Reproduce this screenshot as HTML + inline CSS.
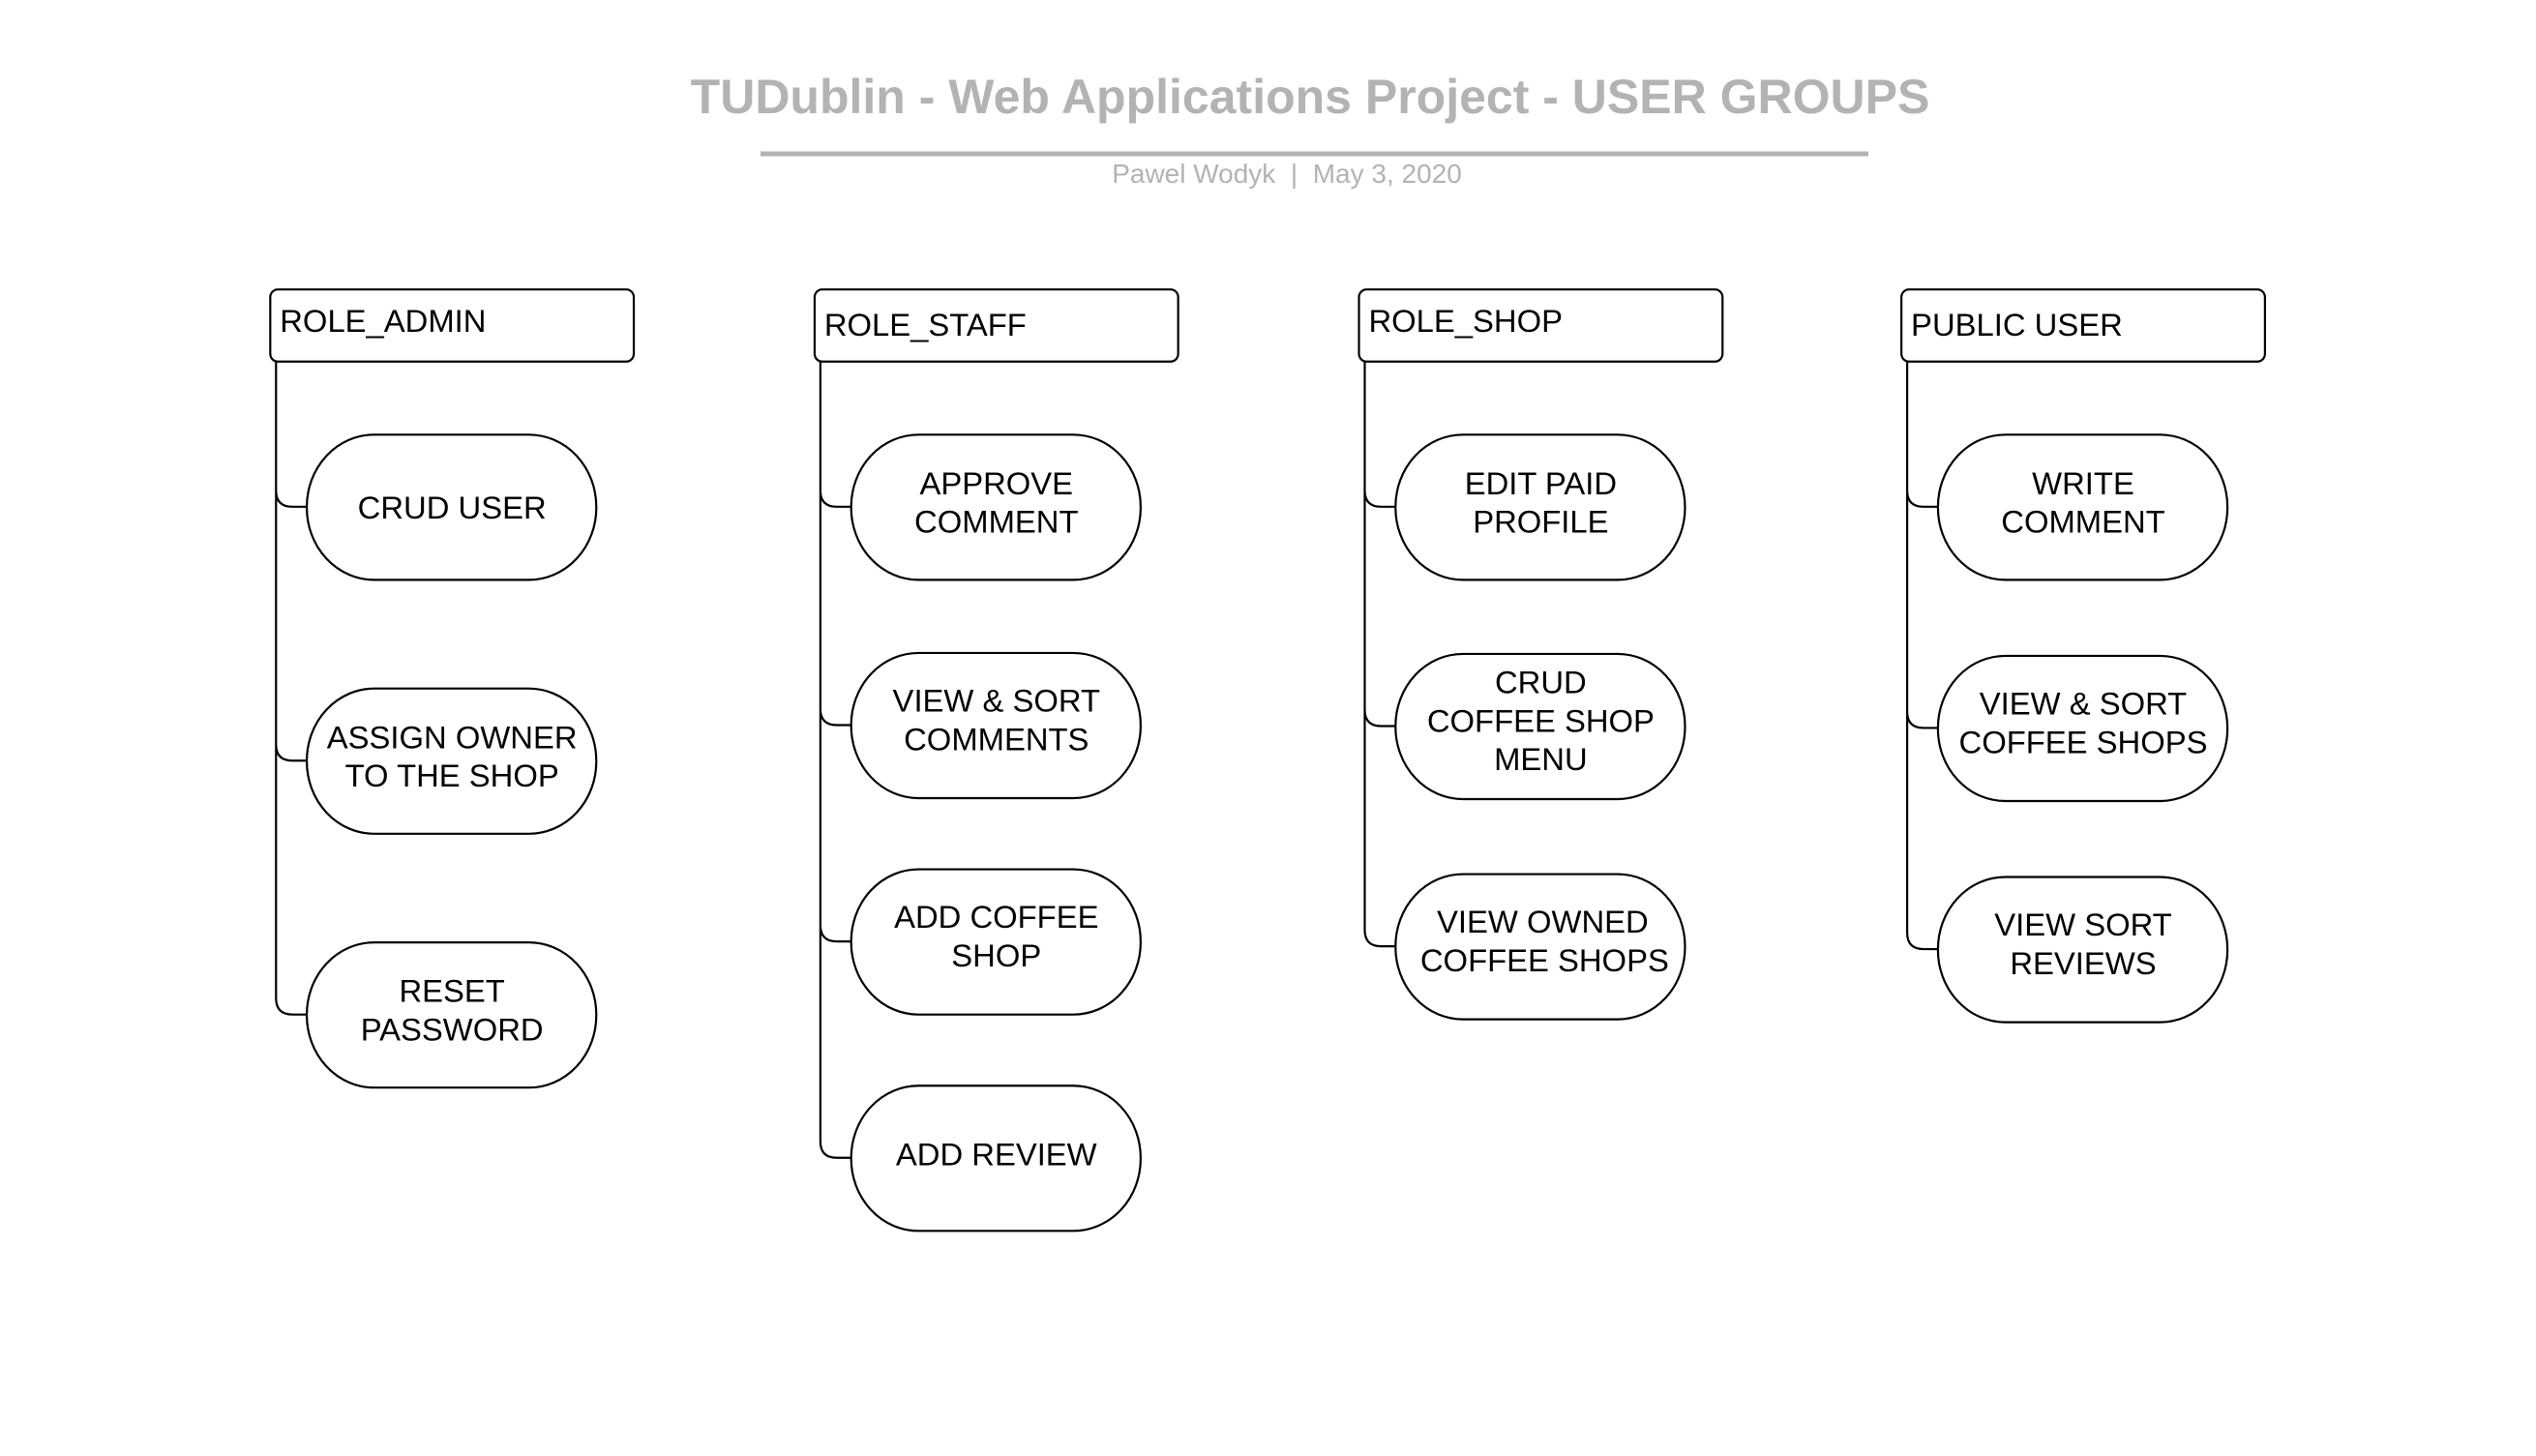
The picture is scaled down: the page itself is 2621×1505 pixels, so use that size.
<!DOCTYPE html>
<html><head><meta charset="utf-8"><style>
html,body{margin:0;padding:0;background:#fff;}
svg{display:block;}
text{font-family:"Liberation Sans",sans-serif;}
</style></head><body>
<svg width="2621" height="1505" viewBox="0 0 2621 1505" xmlns="http://www.w3.org/2000/svg">
<rect width="2621" height="1505" fill="#fff"/>
<text x="1354" y="117" font-size="50" font-weight="bold" fill="#b3b3b3" text-anchor="middle">TUDublin - Web Applications Project - USER GROUPS</text>
<line x1="786" y1="159" x2="1931" y2="159" stroke="#b3b3b3" stroke-width="5"/>
<text x="1330" y="189" font-size="28" fill="#b3b3b3" text-anchor="middle" xml:space="preserve">Pawel Wodyk  |  May 3, 2020</text>

<g transform="scale(0.994)">
<g fill="none" stroke="#000" stroke-width="2.2">
<rect x="281" y="301" width="378" height="75" rx="8"/>
<rect x="847" y="301" width="378" height="75" rx="8"/>
<rect x="1413" y="301" width="378" height="75" rx="8"/>
<rect x="1977" y="301" width="378" height="75" rx="8"/>
<path d="M287 376 V510 q0 17 17 17 H319 M287 510 V774 q0 17 17 17 H319 M287 774 V1038 q0 17 17 17 H319"/>
<path d="M853 376 V510 q0 17 17 17 H885 M853 510 V737 q0 17 17 17 H885 M853 737 V962 q0 17 17 17 H885 M853 962 V1187 q0 17 17 17 H885"/>
<path d="M1419 376 V510 q0 17 17 17 H1451 M1419 510 V738 q0 17 17 17 H1451 M1419 738 V967 q0 17 17 17 H1451"/>
<path d="M1983 376 V510 q0 17 17 17 H2015 M1983 510 V740 q0 17 17 17 H2015 M1983 740 V970 q0 17 17 17 H2015"/>
<rect x="319" y="452" width="301" height="151" rx="70" ry="75"/>
<rect x="319" y="716" width="301" height="151" rx="70" ry="75"/>
<rect x="319" y="980" width="301" height="151" rx="70" ry="75"/>
<rect x="885" y="452" width="301" height="151" rx="70" ry="75"/>
<rect x="885" y="679" width="301" height="151" rx="70" ry="75"/>
<rect x="885" y="904" width="301" height="151" rx="70" ry="75"/>
<rect x="885" y="1129" width="301" height="151" rx="70" ry="75"/>
<rect x="1451" y="452" width="301" height="151" rx="70" ry="75"/>
<rect x="1451" y="680" width="301" height="151" rx="70" ry="75"/>
<rect x="1451" y="909" width="301" height="151" rx="70" ry="75"/>
<rect x="2015" y="452" width="301" height="151" rx="70" ry="75"/>
<rect x="2015" y="682" width="301" height="151" rx="70" ry="75"/>
<rect x="2015" y="912" width="301" height="151" rx="70" ry="75"/>
</g>

<g font-size="33" fill="#000">
<text x="291" y="345">ROLE_ADMIN</text>
<text x="857" y="349">ROLE_STAFF</text>
<text x="1423" y="345">ROLE_SHOP</text>
<text x="1987" y="349">PUBLIC USER</text>
</g>

<g font-size="33" fill="#000" text-anchor="middle">
<text x="470" y="539">CRUD USER</text>
<text x="470" y="778">ASSIGN OWNER</text><text x="470" y="818">TO THE SHOP</text>
<text x="470" y="1042">RESET</text><text x="470" y="1082">PASSWORD</text>
<text x="1036" y="514">APPROVE</text><text x="1036" y="554">COMMENT</text>
<text x="1036" y="740">VIEW &amp; SORT</text><text x="1036" y="780">COMMENTS</text>
<text x="1036" y="965">ADD COFFEE</text><text x="1036" y="1005">SHOP</text>
<text x="1036" y="1212">ADD REVIEW</text>
<text x="1602" y="514">EDIT PAID</text><text x="1602" y="554">PROFILE</text>
<text x="1602" y="721">CRUD</text><text x="1602" y="761">COFFEE SHOP</text><text x="1602" y="801">MENU</text>
<text x="1604" y="970">VIEW OWNED</text><text x="1606" y="1010">COFFEE SHOPS</text>
<text x="2166" y="514">WRITE</text><text x="2166" y="554">COMMENT</text>
<text x="2166" y="743">VIEW &amp; SORT</text><text x="2166" y="783">COFFEE SHOPS</text>
<text x="2166" y="973">VIEW SORT</text><text x="2166" y="1013">REVIEWS</text>
</g>
</g>
</svg>
</body></html>
